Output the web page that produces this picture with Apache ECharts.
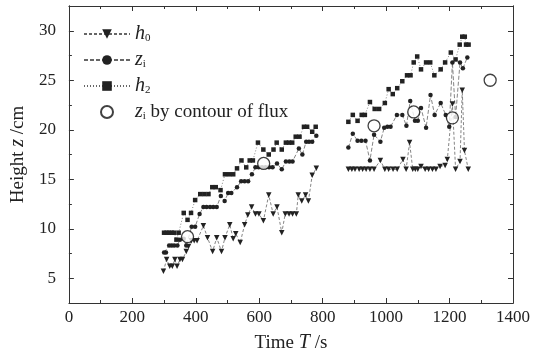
<!DOCTYPE html>
<html><head><meta charset="utf-8">
<script src="https://cdn.jsdelivr.net/npm/echarts@6/dist/echarts.min.js"></script>
<style>html,body{margin:0;padding:0;background:#fff}#c{width:546px;height:358px}</style>
</head><body><div id="c"></div>
<script>
// [time T (s), height z (cm)]
const h0Left = [[298,5.7],[308,6.9],[318,6.2],[326,6.2],[334,6.9],[341,6.2],[350,6.9],[358,6.9],[370,7.7],[377,8.2],[386,8.8],[395,8.8],[404,8.8],[424,10.3],[437,9.1],[453,7.7],[466,9.1],[481,7.7],[492,9.1],[507,10.4],[518,9.0],[526,9.5],[540,8.6],[554,10.4],[564,11.4],[576,12.2],[588,11.5],[599,11.5],[613,10.8],[630,13.4],[644,11.5],[656,12.2],[671,9.6],[682,11.5],[694,11.5],[705,11.5],[717,11.5],[723,13.4],[734,12.8],[746,13.4],[755,12.8],[767,15.4],[780,16.1]];
const h0Right = [[881,16],[892,16],[902,16],[915,16],[926,16],[937,16],[949,16],[962,16],[982,16.9],[996,16],[1008,16],[1022,16],[1035,16],[1053,17.0],[1063,16],[1074,18.7],[1084,16],[1092,16],[1100,16],[1110,16.3],[1123,16],[1134,16],[1146,16],[1157,16],[1170,16.3],[1186,16.4],[1193,17.0],[1209,22.6],[1219,16],[1233,16.8],[1240,24.0],[1247,17.9],[1259,16]];
const ziLeft = [[300,7.6],[306,7.6],[316,8.3],[324,8.3],[332,8.3],[342,8.3],[350,8.9],[362,9.0],[370,8.3],[387,10.2],[398,10.2],[412,11.5],[424,12.2],[434,12.2],[445,12.2],[455,12.2],[466,12.2],[479,13.3],[491,12.8],[502,13.6],[512,13.6],[530,14.2],[543,14.8],[554,14.8],[565,14.8],[577,15.5],[588,16.2],[598,16.2],[609,16.2],[620,16.2],[631,16.2],[642,16.2],[656,16.6],[671,16.0],[684,16.8],[695,16.8],[705,16.8],[725,18.1],[736,17.5],[748,18.8],[757,18.8],[767,18.8],[780,19.4]];
const ziRight = [[881,18.2],[895,19.6],[910,18.9],[922,18.9],[935,18.9],[949,16.9],[962,19.5],[982,18.8],[994,20.2],[1004,20.3],[1014,20.3],[1034,21.5],[1051,21.5],[1064,20.4],[1076,22.9],[1091,20.9],[1100,20.9],[1110,22.2],[1126,20.2],[1140,23.5],[1153,21.5],[1172,22.7],[1188,21.5],[1199,20.3],[1209,26.8],[1219,21.3],[1233,26.8],[1242,26.2],[1256,27.3]];
const h2Left = [[300,9.6],[308,9.6],[316,9.6],[324,9.6],[332,9.6],[339,8.9],[346,9.6],[362,11.6],[374,10.9],[385,11.6],[398,12.9],[414,13.5],[427,13.5],[440,13.5],[452,14.2],[463,14.2],[478,13.9],[492,15.5],[505,15.5],[518,15.5],[530,16.1],[544,16.9],[559,16.2],[570,16.9],[580,16.9],[596,18.7],[613,18.0],[630,17.5],[645,18.0],[655,18.7],[671,18.0],[684,18.7],[694,18.7],[704,18.7],[715,19.3],[727,19.3],[741,20.3],[751,20.3],[767,19.8],[778,20.3]];
const h2Right = [[881,20.8],[895,21.5],[910,20.9],[923,21.5],[933,21.5],[949,22.8],[964,22.1],[978,22.1],[996,22.7],[1008,24.1],[1021,23.6],[1035,24.2],[1051,24.9],[1066,25.5],[1077,25.5],[1087,26.8],[1098,27.4],[1110,26.1],[1126,26.8],[1139,26.8],[1152,25.5],[1172,26.1],[1186,26.8],[1204,27.8],[1219,27.1],[1232,28.6],[1240,29.4],[1248,29.4],[1252,28.6],[1260,28.6]];
const contour = [[374,9.2],[614,16.6],[962,20.4],[1087,21.8],[1209,21.2],[1328,25.0]];
const xTicks = [0,200,400,600,800,1000,1200,1400];
const yMajor = [5,10,15,20,25,30];
const yMinor = [7.5,12.5,17.5,22.5,27.5];

const FONT = 'Liberation Serif';
const BREAK = [830, '-'];
const join = (a, b) => a.concat([BREAK], b);
const names = {
  h0: '{it|h}{sub|0}',
  zi: '{it|z}{sub|i}',
  h2: '{it|h}{sub|2}',
  zc: '{it|z}{sub|i}{rm| by contour of flux}'
};
const rich = {
  it: {fontFamily: FONT, fontStyle: 'italic', fontSize: 20, color: '#222', lineHeight: 20, verticalAlign: 'middle'},
  sub: {fontFamily: FONT, fontSize: 11, color: '#222', lineHeight: 20, verticalAlign: 'bottom', padding: [10,0,0,0]},
  rm: {fontFamily: FONT, fontSize: 19, color: '#222', lineHeight: 20, verticalAlign: 'middle'}
};
const mkLine = (name, data, sym, size, dash, rot) => ({
  name, type: 'line', data, symbol: sym, symbolSize: size, symbolRotate: rot || 0,
  connectNulls: false,
  lineStyle: {color: '#666', width: 0.8, type: dash},
  itemStyle: {color: '#222'},
  z: 3
});
const axisBase = {
  min: 0, max: 1400, interval: 200,
  axisLine: {show: true, onZero: false, lineStyle: {color: '#333', width: 1}},
  axisTick: {show: true, inside: true, length: 5, lineStyle: {color: '#333'}},
  minorTick: {show: true, splitNumber: 2, length: 3, lineStyle: {color: '#333'}},
  splitLine: {show: false}
};
const yBase = (pos, vals, len, labels) => ({
  type: 'value', position: pos, offset: 0, min: 2.5, max: 32.5,
  axisLine: {show: true, onZero: false, lineStyle: {color: '#333', width: 1}},
  axisTick: {show: true, inside: true, length: len, customValues: vals, lineStyle: {color: '#333'}},
  axisLabel: labels ? {show: true, customValues: yMajor, fontFamily: FONT, fontSize: 17, color: '#222', margin: 13} : {show: false},
  splitLine: {show: false}
});
const chart = echarts.init(document.getElementById('c'));
chart.setOption({
  animation: false,
  backgroundColor: '#fff',
  grid: {left: 64, right: 33, top: 6, bottom: 48},
  legend: {
    orient: 'vertical', left: 78, top: 18, itemWidth: 46, itemHeight: 12, itemGap: 5,
    data: ['h0','zi','h2','zc'],
    formatter: n => names[n],
    textStyle: {rich, padding: [0,0,0,0]}
  },
  xAxis: [
    Object.assign({type: 'value', position: 'bottom',
      axisLabel: {fontFamily: FONT, fontSize: 17, color: '#222', margin: 6, formatter: v => String(v)},
      name: '{rm|Time }{it|T}{rm| /s}', nameLocation: 'middle', nameGap: 30,
      nameTextStyle: {rich}}, axisBase),
    Object.assign({type: 'value', position: 'top', axisLabel: {show: false}}, axisBase)
  ],
  yAxis: [
    Object.assign(yBase('left', yMajor, 5, true), {
      name: '{rm|Height }{it|z}{rm| /cm}', nameLocation: 'middle', nameGap: 27, nameRotate: 90,
      nameTextStyle: {rich}
    }),
    yBase('left', yMinor, 3, false),
    yBase('right', yMajor, 5, false),
    yBase('right', yMinor, 3, false)
  ],
  series: [
    mkLine('h0', join(h0Left, h0Right), 'triangle', 5.5, [3,2], 180),
    mkLine('zi', join(ziLeft, ziRight), 'circle', 4.5, [4,2]),
    mkLine('h2', join(h2Left, h2Right), 'rect', 4.5, [1,2]),
    {name: 'zc', type: 'scatter', data: contour, symbol: 'circle', symbolSize: 12,
     itemStyle: {color: '#fff', borderColor: '#111', borderWidth: 1.3}, z: 5}
  ]
});
</script></body></html>
